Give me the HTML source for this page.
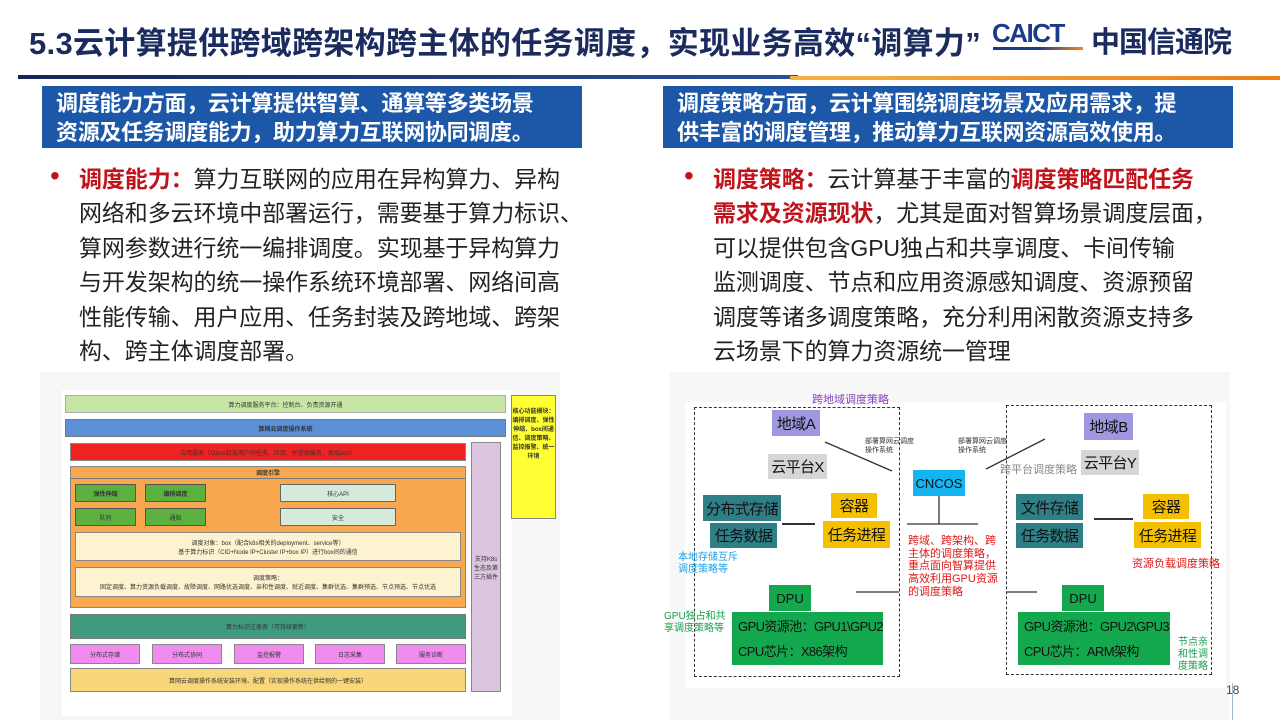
<!DOCTYPE html>
<html><head><meta charset="utf-8">
<style>
*{margin:0;padding:0;box-sizing:border-box}
body{width:1280px;height:720px;overflow:hidden;background:#fff;position:relative;font-family:"Liberation Sans","Noto Sans CJK SC",sans-serif}
.a{position:absolute}
.c{display:flex;align-items:center;justify-content:center;text-align:center;white-space:nowrap}
.t{font-size:23px;color:#222;line-height:34.4px;letter-spacing:-0.1px}
.sm{font-size:6px;color:#333;white-space:normal}
.bx{font-size:15px;letter-spacing:-0.6px;color:#111}
</style></head><body>
<div class="a" style="left:29px;top:18px;font-size:31px;font-weight:bold;color:#1b2b5e;white-space:nowrap;letter-spacing:0.3px">5.3云计算提供跨域跨架构跨主体的任务调度，实现业务高效“调算力”</div>
<div class="a" style="left:992px;top:18px;font-size:26px;font-weight:900;color:#1c3a8c;letter-spacing:-1.5px">CAICT</div>
<div class="a" style="left:993px;top:47px;width:90px;height:3px;background:linear-gradient(90deg,#1c3a8c 50%,#f08a1c)"></div>
<div class="a" style="left:1091px;top:19px;font-size:29px;font-weight:bold;color:#1b2b5e;letter-spacing:-1px">中国信通院</div>
<div class="a" style="left:18px;top:75px;width:780px;height:4px;background:linear-gradient(90deg,#16245a,#2a4f9a)"></div>
<div class="a" style="left:790px;top:76px;width:490px;height:4px;background:linear-gradient(90deg,#f4b24a,#ee7e16)"></div>
<div class="a" style="left:42px;top:86px;width:540px;height:62px;background:#1d58a8;color:#fff;font-weight:bold;font-size:22px;line-height:29px;padding:3px 0 0 14px;letter-spacing:-0.3px;white-space:nowrap">调度能力方面，云计算提供智算、通算等多类场景<br>资源及任务调度能力，助力算力互联网协同调度。</div>
<div class="a" style="left:663px;top:86px;width:570px;height:62px;background:#1d58a8;color:#fff;font-weight:bold;font-size:22px;line-height:29px;padding:3px 0 0 14px;letter-spacing:-0.3px;white-space:nowrap">调度策略方面，云计算围绕调度场景及应用需求，提<br>供丰富的调度管理，推动算力互联网资源高效使用。</div>
<div class="a" style="left:50px;top:160px;font-size:28px;color:#c0141c">•</div>
<div class="a t" style="left:79px;top:162px;width:560px;white-space:nowrap"><b style="color:#c0141c">调度能力：</b>算力互联网的应用在异构算力、异构<br>网络和多云环境中部署运行，需要基于算力标识、<br>算网参数进行统一编排调度。实现基于异构算力<br>与开发架构的统一操作系统环境部署、网络间高<br>性能传输、用户应用、任务封装及跨地域、跨架<br>构、跨主体调度部署。</div>
<div class="a" style="left:684px;top:160px;font-size:28px;color:#c0141c">•</div>
<div class="a t" style="left:713px;top:162px;width:560px;white-space:nowrap"><b style="color:#c0141c">调度策略：</b>云计算基于丰富的<b style="color:#c0141c">调度策略匹配任务<br>需求及资源现状</b>，尤其是面对智算场景调度层面，<br>可以提供包含GPU独占和共享调度、卡间传输<br>监测调度、节点和应用资源感知调度、资源预留<br>调度等诸多调度策略，充分利用闲散资源支持多<br>云场景下的算力资源统一管理</div>

<div class="a" style="left:40px;top:372px;width:520px;height:348px;background:#f6f6f6"></div>
<div class="a" style="left:62px;top:390px;width:450px;height:326px;background:#fff"></div>
<div class="a c sm" style="left:65px;top:395px;width:441px;height:18px;background:#c6e6a6;border:1px solid #aaa">算力调度服务平台：控制台、负责资源开通</div>
<div class="a c sm" style="left:65px;top:419px;width:441px;height:18px;background:#5b8fd6;border:1px solid #777;font-weight:bold">算网云调度操作系统</div>
<div class="a c sm" style="left:70px;top:443px;width:396px;height:18px;background:#f02222;border:1px solid #888">应用服务（以box封装用户的任务、应用、并提供服务，类似pod）</div>
<div class="a" style="left:70px;top:466px;width:396px;height:142px;background:#f9a84f;border:1px solid #888"></div>
<div class="a c sm" style="left:70px;top:466px;width:396px;height:13px;border-bottom:1px solid #777;font-weight:bold">调度引擎</div>
<div class="a c sm" style="left:75px;top:484px;width:61px;height:18px;background:#5cb040;border:1px solid #555;font-weight:bold">弹性伸缩</div>
<div class="a c sm" style="left:145px;top:484px;width:61px;height:18px;background:#5cb040;border:1px solid #555;font-weight:bold">编排调度</div>
<div class="a c sm" style="left:75px;top:508px;width:61px;height:18px;background:#5cb040;border:1px solid #555">队列</div>
<div class="a c sm" style="left:145px;top:508px;width:61px;height:18px;background:#5cb040;border:1px solid #555">通知</div>
<div class="a c sm" style="left:280px;top:484px;width:116px;height:18px;background:#d5eadb;border:1px solid #666">核心API</div>
<div class="a c sm" style="left:280px;top:508px;width:116px;height:18px;background:#d5eadb;border:1px solid #666">安全</div>
<div class="a c sm" style="left:75px;top:532px;width:386px;height:29px;background:#fdf3d0;border:1px solid #888">调度对象：box（配合k8s相关的deployment、service等）<br>基于算力标识（CID+Node IP+Cluster IP+box IP）进行box间的通信</div>
<div class="a c sm" style="left:75px;top:567px;width:386px;height:30px;background:#fdf3d0;border:1px solid #888">调度策略：<br>固定调度、算力资源负载调度、故障调度、网路优选调度、亲和性调度、就近调度、集群优选、集群预选、节点预选、节点优选</div>
<div class="a c sm" style="left:70px;top:614px;width:396px;height:25px;background:#3f9a80;border:1px solid #777">算力标识注册表（可持续更新）</div>
<div class="a c sm" style="left:70px;top:644px;width:70px;height:20px;background:#f08cf0;border:1px solid #888">分布式存储</div>
<div class="a c sm" style="left:152px;top:644px;width:70px;height:20px;background:#f08cf0;border:1px solid #888">分布式协同</div>
<div class="a c sm" style="left:234px;top:644px;width:70px;height:20px;background:#f08cf0;border:1px solid #888">监控报警</div>
<div class="a c sm" style="left:315px;top:644px;width:70px;height:20px;background:#f08cf0;border:1px solid #888">日志采集</div>
<div class="a c sm" style="left:396px;top:644px;width:70px;height:20px;background:#f08cf0;border:1px solid #888">服务诊断</div>
<div class="a c sm" style="left:70px;top:668px;width:396px;height:24px;background:#f8d77a;border:1px solid #888">算网云调度操作系统安装环境、配置（实现操作系统在供给侧的一键安装）</div>
<div class="a c sm" style="left:471px;top:442px;width:30px;height:250px;background:#dcc6df;border:1px solid #888">支持K8s生态及第三方插件</div>
<div class="a c sm" style="left:511px;top:395px;width:45px;height:124px;background:#ffff33;border:1px solid #888;font-weight:bold;align-items:flex-start;padding-top:10px">核心功能模块：编排调度、弹性伸缩、box间通信、调度策略、监控报警、统一环境</div>

<div class="a" style="left:670px;top:372px;width:560px;height:348px;background:#f7f7f7"></div>
<div class="a" style="left:685px;top:402px;width:541px;height:286px;background:#fff"></div>
<div class="a" style="left:694px;top:407px;width:206px;height:270px;border:1px dashed #333"></div>
<div class="a" style="left:1006px;top:405px;width:206px;height:270px;border:1px dashed #333"></div>
<svg class="a" style="left:0;top:0" width="1280" height="720">
<g stroke="#333" stroke-width="1.3">
<line x1="825" y1="442" x2="892" y2="471"/>
<line x1="986" y1="469" x2="1045" y2="439"/>
<line x1="939" y1="496" x2="939" y2="524"/>
<line x1="907" y1="524" x2="978" y2="524"/>
<line x1="782" y1="524" x2="815" y2="524" stroke-width="2"/>
<line x1="1094" y1="519" x2="1133" y2="519" stroke-width="2"/>
<line x1="856" y1="592" x2="899" y2="592"/>
<line x1="1006" y1="592" x2="1037" y2="592"/>
</g></svg>
<div class="a" style="left:812px;top:391px;font-size:11px;color:#8a3fc0">跨地域调度策略</div>
<div class="a c bx" style="left:772px;top:410px;width:48px;height:26px;background:#9f97e0">地域A</div>
<div class="a c bx" style="left:768px;top:454px;width:59px;height:25px;background:#d6d6d6">云平台X</div>
<div class="a c bx" style="left:703px;top:495px;width:78px;height:26px;background:#2f7f86">分布式存储</div>
<div class="a c bx" style="left:710px;top:523px;width:67px;height:25px;background:#2f7f86">任务数据</div>
<div class="a c bx" style="left:831px;top:493px;width:46px;height:25px;background:#f5c000">容器</div>
<div class="a c bx" style="left:823px;top:521px;width:67px;height:27px;background:#f5c000">任务进程</div>
<div class="a c" style="left:913px;top:470px;width:52px;height:26px;background:#14b4f0;font-size:13px;color:#111">CNCOS</div>
<div class="a" style="left:865px;top:437px;font-size:7px;line-height:9px;color:#333">部署算网云调度<br>操作系统</div>
<div class="a" style="left:958px;top:437px;font-size:7px;line-height:9px;color:#333">部署算网云调度<br>操作系统</div>
<div class="a" style="left:1000px;top:461px;font-size:11px;color:#888">跨平台调度策略</div>
<div class="a c bx" style="left:1084px;top:413px;width:49px;height:27px;background:#9f97e0">地域B</div>
<div class="a c bx" style="left:1081px;top:450px;width:58px;height:25px;background:#d6d6d6">云平台Y</div>
<div class="a c bx" style="left:1016px;top:494px;width:67px;height:26px;background:#2f7f86">文件存储</div>
<div class="a c bx" style="left:1016px;top:523px;width:67px;height:25px;background:#2f7f86">任务数据</div>
<div class="a c bx" style="left:1143px;top:494px;width:46px;height:25px;background:#f5c000">容器</div>
<div class="a c bx" style="left:1134px;top:522px;width:67px;height:26px;background:#f5c000">任务进程</div>
<div class="a" style="left:908px;top:535px;font-size:11px;line-height:12.7px;color:#e01818;white-space:nowrap">跨域、跨架构、跨<br>主体的调度策略，<br>重点面向智算提供<br>高效利用GPU资源<br>的调度策略</div>
<div class="a" style="left:1132px;top:555px;font-size:11px;color:#e01818;white-space:nowrap">资源负载调度策略</div>
<div class="a" style="left:678px;top:552px;font-size:10px;line-height:12px;color:#1aa0e0">本地存储互斥<br>调度策略等</div>
<div class="a" style="left:664px;top:611px;font-size:10px;line-height:12px;color:#1aa050;white-space:nowrap">GPU独占和共<br>享调度策略等</div>
<div class="a" style="left:1178px;top:637px;font-size:10px;line-height:12px;color:#1aa050">节点亲<br>和性调<br>度策略</div>
<div class="a c" style="left:769px;top:585px;width:42px;height:26px;background:#13a84e;font-size:13px;color:#111">DPU</div>
<div class="a" style="left:732px;top:612px;width:151px;height:53px;background:#13a84e;font-size:13px;line-height:25px;color:#111;padding:2px 0 0 6px;white-space:nowrap;letter-spacing:-0.6px;overflow:hidden">GPU资源池：GPU1\GPU2<br>CPU芯片：X86架构</div>
<div class="a c" style="left:1062px;top:585px;width:42px;height:26px;background:#13a84e;font-size:13px;color:#111">DPU</div>
<div class="a" style="left:1018px;top:612px;width:152px;height:53px;background:#13a84e;font-size:13px;line-height:25px;color:#111;padding:2px 0 0 6px;white-space:nowrap;letter-spacing:-0.6px;overflow:hidden">GPU资源池：GPU2\GPU3<br>CPU芯片：ARM架构</div>
<div class="a" style="left:1232px;top:683px;width:1px;height:37px;background:#9bc"></div>
<div class="a" style="left:1226px;top:683px;font-size:12px;color:#444">18</div>
</body></html>
